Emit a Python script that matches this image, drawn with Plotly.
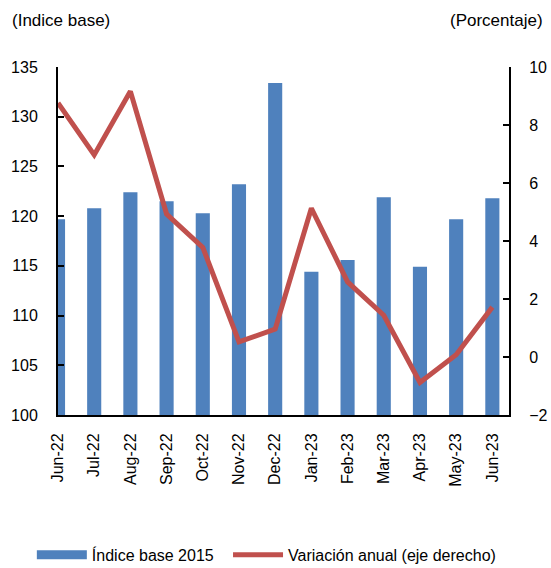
import plotly.graph_objects as go

meses = ["Jun-22", "Jul-22", "Aug-22", "Sep-22", "Oct-22", "Nov-22", "Dec-22",
         "Jan-23", "Feb-23", "Mar-23", "Apr-23", "May-23", "Jun-23"]
indice = [119.7, 120.8, 122.4, 121.5, 120.3, 123.2, 133.4,
          114.4, 115.6, 121.9, 114.9, 119.7, 121.8]
variacion = [8.76, 6.97, 9.16, 4.93, 3.78, 0.52, 0.96,
             5.13, 2.59, 1.44, -0.88, 0.08, 1.72]

AZUL = "#4F81BD"
ROJO = "#C0504D"
FUENTE = dict(family="Liberation Sans, Arial, sans-serif", size=16, color="#000000")

fig = go.Figure()
fig.add_trace(go.Bar(
    x=meses, y=indice, name="Índice base 2015", showlegend=False,
    marker=dict(color=AZUL, line=dict(width=0)), width=0.39,
))
# muestra de leyenda: rectángulo ancho como en el original
fig.add_trace(go.Scatter(
    x=[None], y=[None], name="Índice base 2015", mode="lines",
    line=dict(color=AZUL, width=9), legend="legend",
))
fig.add_trace(go.Scatter(
    x=meses, y=variacion, name="Variación anual (eje derecho)",
    mode="lines", line=dict(color=ROJO, width=5), yaxis="y2",
    legend="legend2",
))

eje = dict(showline=True, linecolor="#000000", linewidth=2, showgrid=False,
           zeroline=False, tickfont=FUENTE, automargin=False)
leyenda = dict(orientation="h", y=-0.402, yanchor="middle", xanchor="left",
               font=FUENTE, itemwidth=50, bgcolor="rgba(0,0,0,0)")
fig.update_layout(
    width=551, height=568,
    paper_bgcolor="white", plot_bgcolor="white",
    font=FUENTE,
    margin=dict(l=58, r=42, t=67, b=153, autoexpand=False),
    xaxis=dict(eje, type="category", range=[0, 12.46], tickangle=-90,
               ticks="", ticklabelstandoff=10),
    yaxis=dict(eje, range=[100, 135], dtick=5, ticks="inside", ticklen=6,
               tickwidth=2, tickcolor="#000000", ticklabelstandoff=15),
    yaxis2=dict(eje, range=[-2, 10], dtick=2, overlaying="y", side="right",
                ticks="inside", ticklen=6, tickwidth=2, tickcolor="#000000",
                ticklabelstandoff=15),
    showlegend=True,
    legend=dict(leyenda, x=-0.058),
    legend2=dict(leyenda, x=0.377),
    annotations=[
        dict(text="(Indice base)", xref="paper", yref="paper", x=-0.106,
             xanchor="left", y=1.135, yanchor="middle", showarrow=False,
             font=dict(FUENTE, size=17)),
        dict(text="(Porcentaje)", xref="paper", yref="paper", x=1.08,
             xanchor="right", y=1.135, yanchor="middle", showarrow=False,
             font=dict(FUENTE, size=17)),
    ],
)

# sin el margen por defecto del <body>, la figura ocupa toda la ventana
fig.write_html("out.html", config={"displayModeBar": False},
               post_script="document.body.style.margin='0';")
